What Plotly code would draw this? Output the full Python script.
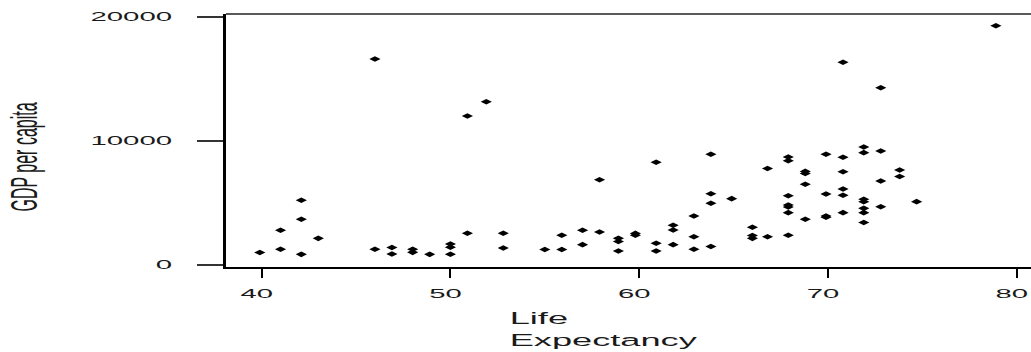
import plotly.graph_objects as go

# ---- data ----
life_expectancy = [
    39.9,
    41.0, 41.0,
    42.1, 42.1, 42.1,
    43.0,
    46.0, 46.0,
    46.9, 46.9,
    48.0, 48.0,
    48.9,
    50.0, 50.0, 50.0,
    50.9, 50.9,
    51.9,
    52.8, 52.8,
    55.0,
    55.9, 55.9,
    57.0, 57.0,
    57.9, 57.9,
    58.9, 58.9, 58.9,
    59.8, 59.8,
    60.9, 60.9, 60.9,
    61.8, 61.8, 61.8,
    62.9, 62.9, 62.9,
    63.8, 63.8, 63.8, 63.8,
    64.9,
    66.0, 66.0, 66.0,
    66.8, 66.8,
    67.9, 67.9, 67.9, 67.9, 67.9, 67.9, 67.9,
    68.8, 68.8, 68.8, 68.8,
    69.9, 69.9, 69.9, 69.9,
    70.8, 70.8, 70.8, 70.8, 70.8, 70.8,
    71.9, 71.9, 71.9, 71.9, 71.9, 71.9, 71.9,
    72.8, 72.8, 72.8, 72.8,
    73.8, 73.8,
    74.7,
    78.9,
]
gdp_per_capita = [
    1010,
    1270, 2800,
    5220, 3690, 860,
    2150,
    16610, 1270,
    1410, 890,
    1270, 1020,
    860,
    1690, 1430, 870,
    12020, 2560,
    13170,
    2560, 1370,
    1250,
    2400, 1250,
    2800, 1640,
    6880, 2660,
    2150, 1900, 1130,
    2400, 2550,
    8290, 1750, 1130,
    3200, 2820, 1640,
    3950, 2280, 1270,
    8930, 5750, 4980, 1490,
    5350,
    3040, 2380, 2150,
    7780, 2280,
    8710, 8410, 5590, 4840, 4680, 4220, 2400,
    7550, 7380, 6510, 3690,
    8930, 5730, 3950, 3850,
    16350, 8690, 7520, 6130, 5620, 4220,
    9520, 9060, 5300, 5100, 4570, 4220, 3430,
    14300, 9190, 6770, 4700,
    7660, 7140,
    5110,
    19300,
]
x_tick_values = [40, 50, 60, 70, 80]
y_tick_values = [0, 10000, 20000]
x_title = "Life<br>Expectancy"
y_title = "GDP per capita"

fig = go.Figure(
    go.Scatter(
        x=life_expectancy,
        y=gdp_per_capita,
        mode="markers",
        marker=dict(symbol="diamond-wide", size=8, color="black", line=dict(width=0)),
        hoverinfo="x+y",
    )
)

fig.update_layout(
    width=1031,
    height=352,
    margin=dict(l=226, r=0, t=14, b=85),
    paper_bgcolor="white",
    plot_bgcolor="white",
    showlegend=False,
    font=dict(family="Liberation Sans, Arial, sans-serif", color="#1a1a1a"),
)
fig.update_xaxes(
    range=[38.11, 80.76],
    tickvals=x_tick_values,
    ticks="outside",
    ticklen=9,
    tickwidth=2,
    tickcolor="black",
    showline=True,
    linecolor="black",
    linewidth=2,
    showgrid=False,
    zeroline=False,
    tickfont=dict(size=13),
    ticklabelstandoff=4,
)
fig.update_yaxes(
    range=[-161, 20242],
    tickvals=y_tick_values,
    tickformat="d",
    ticks="outside",
    ticklen=26,
    tickwidth=1.5,
    tickcolor="#333",
    showline=True,
    linecolor="black",
    linewidth=3,
    showgrid=False,
    zeroline=False,
    tickfont=dict(size=12),
    ticklabelstandoff=20,
)

fig.add_shape(
    type="line", xref="paper", yref="paper", x0=0, x1=1, y0=1, y1=1,
    line=dict(color="#222", width=1.5),
)

fig.add_annotation(
    text=x_title, xref="paper", yref="paper",
    x=(506 - 226) / 805, y=(267 - 307) / 253,
    xanchor="left", yanchor="top", align="left", showarrow=False,
    font=dict(size=17, color="#1a1a1a"),
)
fig.add_annotation(
    text=y_title, xref="paper", yref="paper",
    x=(23.5 - 226) / 805, y=(267 - 157) / 253,
    xanchor="center", yanchor="middle", textangle=-90, showarrow=False,
    font=dict(size=16, color="#1a1a1a"),
)

post_js = """
(function(){
  document.body.style.margin = '0';
  var gd = document.getElementById('{plot_id}');
  function stretch(sel, sx, mode, dx){
    var nodes = gd.querySelectorAll(sel);
    for (var i = 0; i < nodes.length; i++){
      var t = nodes[i];
      var p = t.parentNode;
      if (p.getAttribute && p.getAttribute('data-stretch')) continue;
      var r = t.getBoundingClientRect();
      if (!r.width) continue;
      var cx = mode === 'left' ? r.left : (mode === 'right' ? r.right : (r.left + r.right) / 2);
      var m = p.getScreenCTM();
      var ax = (cx - m.e) / m.a;
      var g = document.createElementNS('http://www.w3.org/2000/svg', 'g');
      g.setAttribute('data-stretch', '1');
      g.setAttribute('transform', 'translate(' + (ax + dx) + ',0) scale(' + sx + ',1) translate(' + (-ax) + ',0)');
      p.insertBefore(g, t);
      g.appendChild(t);
    }
  }
  stretch('.ytick text', 2.45, 'right', -2);
  stretch('.xtick text', 2.25, 'center', -5);
  stretch('.annotation[data-index="0"]', 2.13, 'left', 0);
  stretch('.annotation[data-index="1"]', 2.3, 'center', 0);
})();
"""

fig.write_html("out.html", post_script=post_js, config={"displayModeBar": False})
